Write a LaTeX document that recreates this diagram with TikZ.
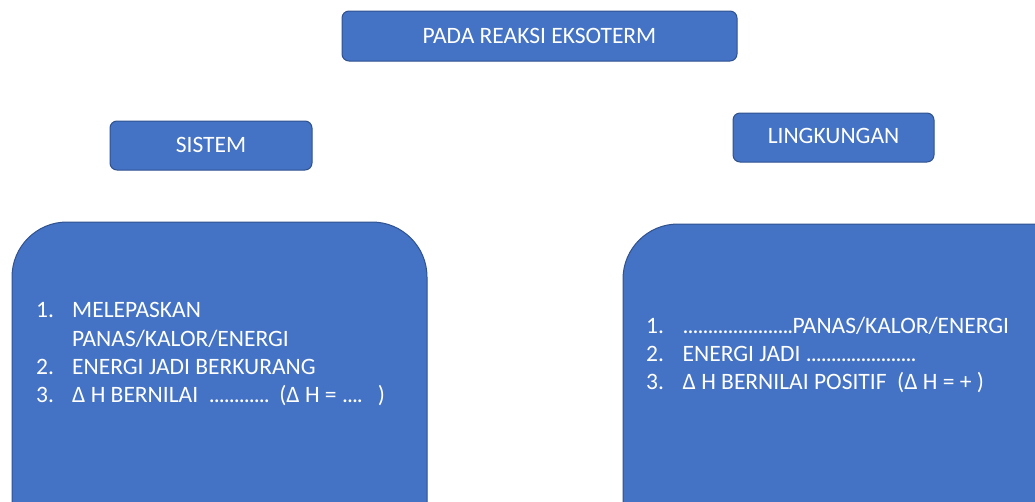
\documentclass[tikz,border=0pt]{standalone}
\usepackage{fontspec}
\setmainfont{Carlito}
\definecolor{boxfill}{HTML}{4472C4}
\definecolor{boxline}{HTML}{2F528F}
\newcommand\pd{\makebox[5pt][l]{.}}
\newcommand\pdiv{\pd\pd\pd\pd}
\begin{document}
\begin{tikzpicture}[x=1pt,y=-1pt,
  box/.style={fill=boxfill,draw=boxline,line width=1pt},
  lbl/.style={text=white,inner sep=0pt,anchor=base,font=\fontsize{23.5}{28}\selectfont},
  itm/.style={text=white,inner sep=0pt,anchor=base west,font=\fontsize{23.5}{28}\selectfont}]
\useasboundingbox (0,0) rectangle (1035,501);
\clip (0,0) rectangle (1035,501);
% header boxes
\draw[box,rounded corners=7pt] (342,11) rectangle (737,61);
\node[lbl] (top) at (539.5,43) {PADA REAKSI EKSOTERM};
\draw[box,rounded corners=7pt] (110,121) rectangle (312,170);
\node[lbl] (sis) at (211,152) {SISTEM};
\draw[box,rounded corners=7pt] (733,113) rectangle (934,162);
\node[lbl] (lin) at (833.5,143) {LINGKUNGAN};
% big boxes
\draw[box,rounded corners=55pt] (12,222) rectangle (427,560);
\draw[box,rounded corners=55pt] (623,224) rectangle (1090,560);
% left list
\node[itm] (a1n) at (36,317) {1.};
\node[itm] (a1) at (72,317) {MELEPASKAN};
\node[itm] (a1b) at (72,346) {PANAS/KALOR/ENERGI};
\node[itm] (a2n) at (36,374) {2.};
\node[itm] (a2) at (72,374) {ENERGI JADI BERKURANG};
\node[itm] (a3n) at (36,402) {3.};
\node[itm] (a3) at (72,402) {Δ H BERNILAI\ \ \pdiv\pdiv\pdiv\ \ (Δ H = \pdiv\ \ \ )};
% right list
\node[itm] (b1n) at (646,333) {1.};
\node[itm] (b1) at (682.5,333) {\pdiv\pdiv\pdiv\pdiv\pdiv\pd\pd PANAS/KALOR/ENERGI};
\node[itm] (b2n) at (646,361) {2.};
\node[itm] (b2) at (682.5,361) {ENERGI JADI \pdiv\pdiv\pdiv\pdiv\pdiv\pd\pd};
\node[itm] (b3n) at (646,389) {3.};
\node[itm] (b3) at (682.5,389) {Δ H BERNILAI POSITIF\ \ (Δ H = + )};
\end{tikzpicture}
\end{document}
